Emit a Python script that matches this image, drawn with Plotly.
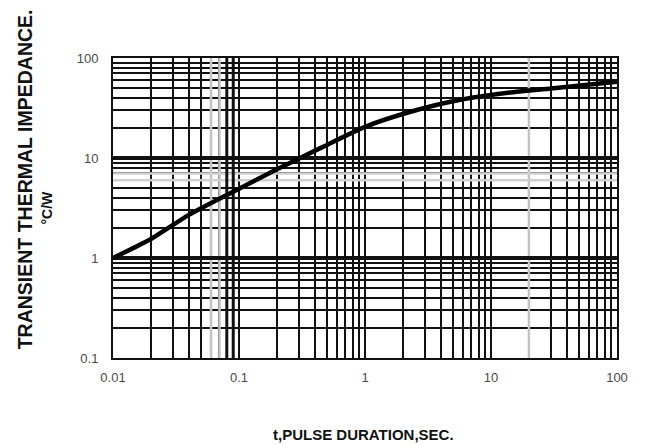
import plotly.graph_objects as go

# Curve (pulse duration in s, transient thermal impedance in °C/W)
pulse_s = [0.01, 0.02, 0.04, 0.09, 0.2, 0.45, 1, 2.3, 5.6, 15, 30, 100]
z_thermal = [1.0, 1.55, 2.7, 4.6, 7.7, 12.7, 20.5, 29, 38, 45.5, 49.5, 58]

x_tick_vals = [0.01, 0.1, 1, 10, 100]
x_tick_text = ["0.01", "0.1", "1", "10", "100"]
y_tick_vals = [0.1, 1, 10, 100]
y_tick_text = ["0.1", "1", "10", "100"]

# emphasised grid lines visible in the scan
thick_y = [10, 1]
thick_x = [0.08, 0.09]
grey_x = [0.06, 0.07, 20]
grey_y = [6, 7]

X_RANGE = [0.01, 100]
Y_RANGE = [0.1, 100]

FONT = "Liberation Sans, Arial, sans-serif"

fig = go.Figure()

def vline_trace(xs, color, width):
    xx, yy = [], []
    for v in xs:
        xx += [v, v, None]
        yy += [Y_RANGE[0], Y_RANGE[1], None]
    return go.Scatter(x=xx, y=yy, mode="lines", line=dict(color=color, width=width),
                      hoverinfo="skip", showlegend=False)

def hline_trace(ys, color, width):
    xx, yy = [], []
    for v in ys:
        xx += [X_RANGE[0], X_RANGE[1], None]
        yy += [v, v, None]
    return go.Scatter(x=xx, y=yy, mode="lines", line=dict(color=color, width=width),
                      hoverinfo="skip", showlegend=False)

fig.add_trace(vline_trace(grey_x, "#c4c4c4", 2.5))
fig.add_trace(hline_trace(grey_y, "#d0d0d0", 2.5))
fig.add_trace(hline_trace(thick_y, "#111111", 4))
fig.add_trace(vline_trace(thick_x, "#111111", 3))

fig.add_trace(go.Scatter(x=pulse_s, y=z_thermal, mode="lines",
                         line=dict(color="black", width=4.5, shape="spline", smoothing=0.6),
                         hoverinfo="skip", showlegend=False))

grid_common = dict(
    type="log",
    automargin=False,
    showgrid=True, gridcolor="#111111", gridwidth=1.7,
    showline=True, linecolor="#111111", linewidth=2, mirror=True,
    zeroline=False,
    ticks="outside", tickcolor="rgba(0,0,0,0)",
    tickfont=dict(family=FONT, size=13, color="#4a4a4a"),
    minor=dict(dtick="D1", showgrid=True, gridcolor="#111111", gridwidth=1.7, ticks=""),
)

fig.update_xaxes(range=[-2, 2], tickvals=x_tick_vals, ticktext=x_tick_text, ticklen=6, **grid_common)
fig.update_yaxes(range=[-1, 2], tickvals=y_tick_vals, ticktext=y_tick_text, ticklen=10, **grid_common)

fig.add_annotation(text="<b>TRANSIENT THERMAL IMPEDANCE.</b>", xref="paper", yref="paper",
                   x=-0.175, y=0.595, xanchor="center", yanchor="middle",
                   textangle=-90, showarrow=False,
                   font=dict(family=FONT, size=19.5, color="#111111"))
fig.add_annotation(text="<b>°C/W</b>", xref="paper", yref="paper",
                   x=-0.13, y=0.503, xanchor="center", yanchor="middle",
                   textangle=-90, showarrow=False,
                   font=dict(family=FONT, size=14, color="#111111"))
fig.add_annotation(text="<b>t,PULSE DURATION,SEC.</b>", xref="paper", yref="paper",
                   x=0.498, y=-0.255, xanchor="center", yanchor="middle", showarrow=False,
                   font=dict(family=FONT, size=15, color="#111111"))

fig.update_layout(
    width=648, height=445,
    margin=dict(l=105, r=39, t=50, b=95),
    paper_bgcolor="white", plot_bgcolor="white",
    showlegend=False,
)

fig.write_html("out.html")
